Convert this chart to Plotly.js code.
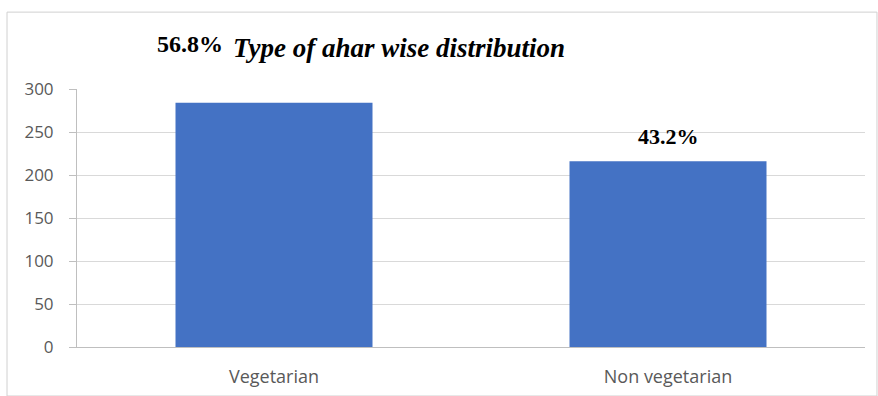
<!DOCTYPE html>
<html>
<head>
<meta charset="utf-8">
<script src="https://cdn.plot.ly/plotly-3.0.1.min.js"></script>
<style>
html,body{margin:0;padding:0;background:#fff;}
#chart{width:878px;height:396px;}
</style>
</head>
<body>
<div id="chart"></div>
<script>
const categories = ["Vegetarian", "Non vegetarian"];
const counts = [284, 216];
const percents = ["56.8%", "43.2%"];
const chartTitle = "Type of ahar wise distribution";
const yTicks = [0, 50, 100, 150, 200, 250, 300];

const trace = {
  type: "bar",
  x: categories,
  y: counts,
  marker: {color: "#4472c4"},
  hoverinfo: "x+y"
};

const layout = {
  width: 878,
  height: 396,
  margin: {l: 77, r: 13, t: 89, b: 49},
  paper_bgcolor: "#ffffff",
  plot_bgcolor: "#ffffff",
  showlegend: false,
  bargap: 0.5,
  xaxis: {
    type: "category",
    showgrid: false,
    showline: true,
    linecolor: "#bfbfbf",
    linewidth: 1,
    ticks: "",
    tickfont: {family: "Open Sans, Liberation Sans, Arial, sans-serif", size: 18, color: "#595959"},
    ticklabelstandoff: 13
  },
  yaxis: {
    range: [0, 300],
    tickvals: yTicks,
    showgrid: true,
    gridcolor: "#d9d9d9",
    gridwidth: 1,
    zeroline: false,
    showline: true,
    linecolor: "#bfbfbf",
    ticks: "outside",
    ticklen: 7,
    tickcolor: "#bfbfbf",
    ticklabelstandoff: 12,
    tickfont: {family: "Open Sans, Liberation Sans, Arial, sans-serif", size: 17, color: "#595959"}
  },
  annotations: [
    {
      xref: "paper", yref: "paper",
      x: 0.143, y: 1.175,
      xanchor: "center", yanchor: "middle",
      text: "<b>" + percents[0] + "</b>",
      showarrow: false,
      font: {family: "Liberation Serif, Times New Roman, serif", size: 24, color: "#000"}
    },
    {
      xref: "paper", yref: "paper",
      x: 0.196, y: 1.16,
      xanchor: "left", yanchor: "middle",
      text: "<b><i>" + chartTitle + "</i></b>",
      showarrow: false,
      font: {family: "Liberation Serif, Times New Roman, serif", size: 27, color: "#000"}
    },
    {
      xref: "x", yref: "y",
      x: categories[1], y: counts[1],
      xanchor: "center", yanchor: "bottom",
      yshift: 10,
      text: "<b>" + percents[1] + "</b>",
      showarrow: false,
      font: {family: "Liberation Serif, Times New Roman, serif", size: 22, color: "#000"}
    }
  ],
  shapes: [
    {
      type: "rect", xref: "paper", yref: "paper",
      x0: -0.0888, x1: 1.0152, y0: -0.19, y1: 1.298,
      line: {color: "#d0d0d0", width: 1},
      fillcolor: "rgba(0,0,0,0)",
      layer: "below"
    }
  ]
};

Plotly.newPlot("chart", [trace], layout, {displayModeBar: false, staticPlot: true});
</script>
</body>
</html>
